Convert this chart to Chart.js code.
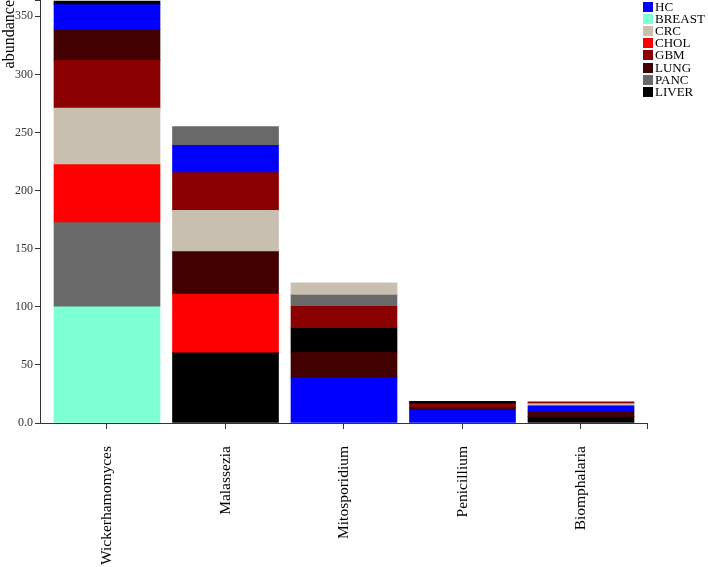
<!DOCTYPE html>
<html>
<head>
<meta charset="utf-8">
<script src="https://cdn.jsdelivr.net/npm/chart.js@4"></script>
<style>
  body { margin: 0; background: #fff; }
  #wrap { position: relative; width: 708px; height: 567px; }
  #legend { position: absolute; left: 643px; top: 1px; font: 13px "Liberation Serif", serif; color: #000; }
  #legend .row { height: 12.1px; display: flex; align-items: center; white-space: nowrap; }
  #legend .box { width: 10px; height: 10px; margin-right: 2px; flex: none; }
</style>
</head>
<body>
<div id="wrap">
  <canvas id="chart" width="708" height="567"></canvas>
  <div id="legend"></div>
</div>
<script>
const genera = ['Wickerhamomyces', 'Malassezia', 'Mitosporidium', 'Penicillium', 'Biomphalaria'];
const seriesNames = ['HC', 'BREAST', 'CRC', 'CHOL', 'GBM', 'LUNG', 'PANC', 'LIVER'];
const seriesColors = ['#0000ff', '#7fffd4', '#c9bfb1', '#ff0000', '#8b0000', '#420000', '#696969', '#000000'];

// abundance per genus, same order as genera
const HC     = [21, 23, 39, 11, 4.5];
const BREAST = [100, 0, 0, 0, 0];
const CRC    = [48, 35, 10, 0, 2];
const CHOL   = [50, 50, 0, 0, 0];
const GBM    = [41, 33, 18.5, 2.4, 1.5];
const LUNG   = [27, 37, 22, 3, 4.7];
const PANC   = [73, 16, 10.2, 0, 0];
const LIVER  = [3, 61, 21, 2.2, 5.5];

const series = [HC, BREAST, CRC, CHOL, GBM, LUNG, PANC, LIVER];
const FONT = '"Liberation Serif", "DejaVu Serif", serif';

// each bar stacks its segments largest first, so work out the ranges per genus
const ranges = series.map(() => []);
genera.forEach((g, i) => {
  const order = series.map((s, k) => k).sort((a, b) => series[b][i] - series[a][i]);
  let base = 0;
  order.forEach(k => {
    const v = series[k][i];
    if (v > 0) {
      ranges[k].push({ x: i, y: [base, base + v] });
      base += v;
    }
  });
});

const datasets = seriesNames.map((name, k) => ({
  label: name,
  data: ranges[k],
  backgroundColor: seriesColors[k],
  borderWidth: 0,
  grouped: false,
  barThickness: 106,
}));

new Chart(document.getElementById('chart'), {
  type: 'bar',
  data: { datasets },
  options: {
    responsive: false,
    animation: false,
    layout: { padding: { top: 0, right: 61, bottom: 0, left: 0 } },
    plugins: { legend: { display: false }, tooltip: { enabled: false } },
    scales: {
      x: {
        type: 'linear',
        offset: false,
        min: -0.5654,
        max: 4.557,
        afterBuildTicks: s => {
          // one tick per genus plus the outer tick at the end of the axis
          s.ticks = genera.map((g, i) => ({ value: i })).concat([{ value: s.max }]);
        },
        afterFit: s => {
          s.height = 144;
          s.paddingLeft = 0;
          s.paddingRight = 0;
        },
        grid: { drawOnChartArea: false, offset: false, tickLength: 6, color: '#333' },
        border: { color: '#333' },
        ticks: {
          minRotation: 90,
          maxRotation: 90,
          autoSkip: false,
          padding: 17,
          color: '#000',
          font: { family: FONT, size: 15.5 },
          callback: v => Number.isInteger(v) ? genera[v] : '',
        },
      },
      y: {
        min: 0,
        max: 364,
        afterFit: s => {
          s.width = 40;
          s.paddingTop = 0;
          s.paddingBottom = 0;
        },
        grid: { drawOnChartArea: false, tickLength: 5, color: '#333' },
        border: { color: '#333' },
        ticks: {
          stepSize: 50,
          padding: 2,
          color: '#333',
          font: { family: FONT, size: 12 },
          callback: v => v === 0 ? '0.0' : (v % 50 === 0 ? v : ''),
        },
        title: {
          display: true,
          text: 'abundance',
          align: 'end',
          padding: 0,
          color: '#000',
          font: { family: FONT, size: 16 },
        },
      },
    },
  },
});

const legend = document.getElementById('legend');
seriesNames.forEach((name, k) => {
  const row = document.createElement('div');
  row.className = 'row';
  const box = document.createElement('span');
  box.className = 'box';
  box.style.background = seriesColors[k];
  row.appendChild(box);
  row.appendChild(document.createTextNode(name));
  legend.appendChild(row);
});
</script>
</body>
</html>
